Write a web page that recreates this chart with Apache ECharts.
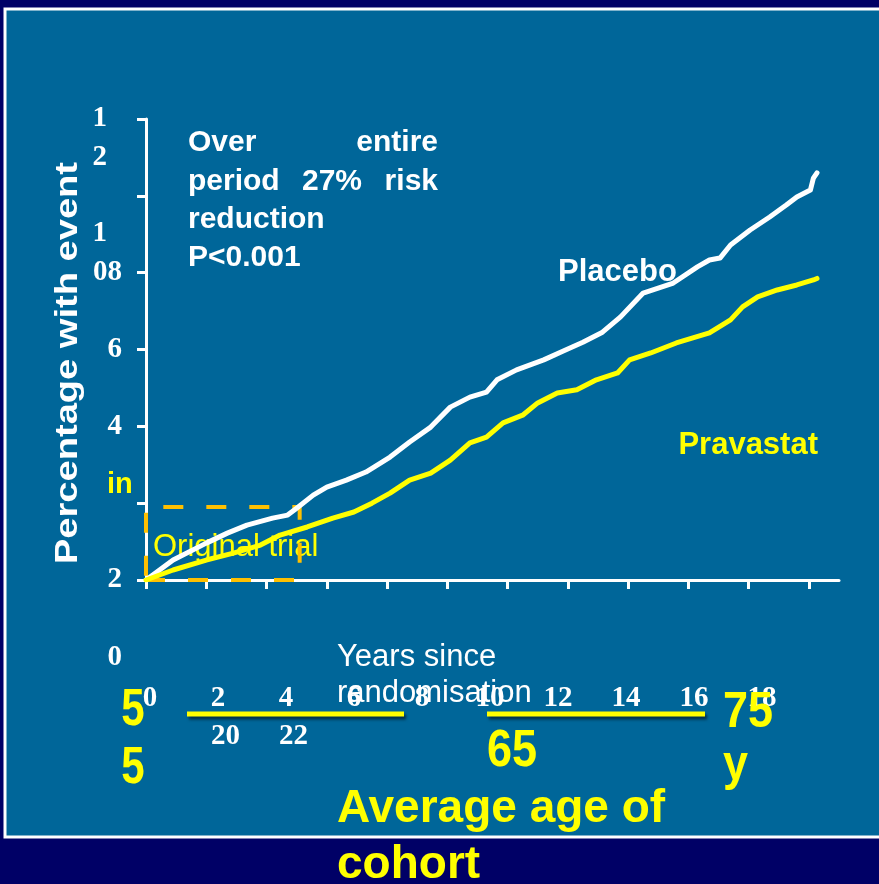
<!DOCTYPE html>
<html>
<head>
<meta charset="utf-8">
<script src="https://cdn.jsdelivr.net/npm/echarts@6/dist/echarts.min.js"></script>
<style>
  html, body { margin: 0; padding: 0; background: #000066; }
  #chart { width: 879px; height: 884px; }
</style>
</head>
<body>
<div id="chart"></div>
<script>
// curves: [years since randomisation, % with event]
const placebo = [
  [0, 0], [0.9, 0.52], [2.0, 0.96], [2.7, 1.22], [3.35, 1.43], [4.2, 1.61], [4.7, 1.69],
  [5.0, 1.87], [5.55, 2.21], [6.0, 2.42], [6.65, 2.6], [7.3, 2.81], [8.1, 3.2], [8.75, 3.59],
  [9.45, 3.98], [10.1, 4.5], [10.75, 4.76], [11.3, 4.89], [11.65, 5.21], [12.3, 5.47],
  [13.2, 5.73], [13.85, 5.96], [14.5, 6.19], [15.15, 6.45], [15.75, 6.85], [16.5, 7.47],
  [17.5, 7.73], [18.3, 8.15], [18.7, 8.33], [19.05, 8.38], [19.4, 8.72], [20.05, 9.11],
  [20.7, 9.45], [21.25, 9.76], [21.6, 9.97], [22.05, 10.15], [22.15, 10.46], [22.27, 10.6]
]
const pravastatin = [
  [0, 0], [0.9, 0.26], [2.0, 0.52], [2.9, 0.7], [3.8, 0.91], [4.45, 1.17], [5.35, 1.38],
  [6.2, 1.61], [6.9, 1.77], [7.5, 2.0], [8.1, 2.26], [8.75, 2.6], [9.45, 2.78], [10.1, 3.12],
  [10.75, 3.57], [11.3, 3.72], [11.85, 4.09], [12.5, 4.29], [13.0, 4.61], [13.65, 4.87],
  [14.3, 4.95], [14.95, 5.21], [15.65, 5.39], [16.05, 5.73], [16.75, 5.91], [17.6, 6.17],
  [18.7, 6.43], [19.4, 6.77], [19.8, 7.11], [20.3, 7.37], [20.95, 7.55], [21.6, 7.68],
  [22.15, 7.81], [22.27, 7.85]
]
// dashed "Original trial" box
const originalTrial = [[0, 0], [5.1, 1.9]]

// tick marks and the (misplaced) tick labels as they appear on the slide
const xTickValues = [0, 2, 4, 6, 8, 10, 12, 14, 16, 18, 20, 22]
const xLabelValues = [0, 2, 4, 6, 8, 10, 12, 14, 16, 18]
const xTickLabels = ['0', '2\n{s|20}', '4\n{s|22}', '6', '8', '10', '12', '14', '16', '18']
const yTickValues = [0, 2, 4, 6, 8, 10, 12]
const yTickLabels = ['\n\n2\n\n0', '', '4', '6', '{p|1}\n08\n', '', '\n{p|1}\n{p|2}']

const WHITE = '#ffffff'
const YELLOW = '#ffff00'
const SANS = 'Liberation Sans, Arial, sans-serif'
const SERIF = 'Liberation Serif, Times New Roman, serif'

const chart = echarts.init(document.getElementById('chart'))

const tickFont = { color: WHITE, fontFamily: SERIF, fontWeight: 'bold', fontSize: 29 }

function txt(x, y, text, opts) {
  return {
    type: 'text', x: x, y: y, z: 1,
    rotation: opts.rotation || 0,
    scaleX: opts.scaleX || 1,
    scaleY: opts.scaleY || 1,
    silent: true,
    style: {
      text: text,
      fill: opts.color || WHITE,
      font: (opts.weight || 'bold') + ' ' + opts.size + 'px ' + SANS,
      align: opts.align || 'left',
      verticalAlign: opts.valign || 'middle',
      lineHeight: opts.lineHeight
    }
  }
}

function underline(x1, x2, y) {
  return {
    type: 'line', z: 1, silent: true,
    shape: { x1: x1, y1: y, x2: x2, y2: y },
    style: {
      stroke: YELLOW, lineWidth: 5,
      shadowColor: 'rgba(0,0,0,0.55)', shadowBlur: 3, shadowOffsetX: 2, shadowOffsetY: 3
    }
  }
}

const option = {
  backgroundColor: '#000066',
  animation: false,
  grid: [
    { left: 146, top: 119, width: 693, height: 461, outerBoundsMode: 'none' },
    { left: 150, top: 600, width: 612, height: 74, outerBoundsMode: 'none' }
  ],
  xAxis: [
    {
      type: 'value', min: 0, max: 23, interval: 2,
      axisLine: { show: true, lineStyle: { color: WHITE, width: 3 } },
      axisTick: { show: true, customValues: xTickValues, length: 9, lineStyle: { color: WHITE, width: 3 } },
      axisLabel: { show: false },
      splitLine: { show: false }
    },
    {
      type: 'value', gridIndex: 1, min: 0, max: 18, interval: 2,
      axisLine: { show: false }, axisTick: { show: false }, splitLine: { show: false },
      axisLabel: Object.assign({
        margin: 6, lineHeight: 38,
        formatter: v => xTickLabels[xLabelValues.indexOf(v)] || '',
        rich: { s: Object.assign({ padding: [0, 0, 0, 15], lineHeight: 38 }, tickFont) }
      }, tickFont)
    }
  ],
  yAxis: [
    {
      type: 'value', min: 0, max: 12, interval: 2,
      axisLine: { show: true, lineStyle: { color: WHITE, width: 3 } },
      axisTick: { show: true, length: 9, lineStyle: { color: WHITE, width: 3 } },
      splitLine: { show: false },
      axisLabel: Object.assign({
        margin: 24, lineHeight: 39,
        formatter: v => yTickLabels[yTickValues.indexOf(v)] || '',
        rich: { p: Object.assign({ padding: [0, 15, 0, 0], lineHeight: 39 }, tickFont) }
      }, tickFont)
    },
    { type: 'value', gridIndex: 1, show: false, min: 0, max: 1 }
  ],
  graphic: [
    {
      type: 'rect', z: -10, silent: true,
      shape: { x: 5, y: 9, width: 880, height: 828 },
      style: { fill: '#006699', stroke: WHITE, lineWidth: 3 }
    },
    txt(68, 363, 'Percentage with event', { size: 32, align: 'center', rotation: Math.PI / 2, scaleX: 1.19 }),
    txt(188, 143, 'Over', { size: 30 }),
    txt(438, 143, 'entire', { size: 30, align: 'right' }),
    txt(188, 182, 'period', { size: 30 }),
    txt(302, 182, '27%', { size: 30 }),
    txt(438, 182, 'risk', { size: 30, align: 'right' }),
    txt(188, 220, 'reduction', { size: 30 }),
    txt(188, 258, 'P<0.001', { size: 30 }),
    txt(558, 272, 'Placebo', { size: 31 }),
    txt(818, 445, 'Pravastat', { size: 31, align: 'right', color: YELLOW }),
    txt(107, 485, 'in', { size: 29, color: YELLOW }),
    txt(153, 547, 'Original trial', { size: 31, weight: 'normal', color: YELLOW }),
    txt(337, 639, 'Years since\nrandomisation', { size: 31, weight: 'normal', valign: 'top', lineHeight: 36 }),
    txt(133, 740, '5\n5', { size: 42, align: 'center', color: YELLOW, scaleY: 1.22, lineHeight: 47 }),
    txt(512, 752, '65', { size: 45, align: 'center', color: YELLOW, scaleY: 1.15 }),
    txt(723, 740, '75\ny', { size: 45, color: YELLOW, scaleY: 1.1, lineHeight: 48 }),
    txt(337, 781, 'Average age of\ncohort', { size: 46, color: YELLOW, valign: 'top', lineHeight: 56 }),
    underline(187, 404, 714),
    underline(487, 705, 714)
  ],
  series: [
    {
      name: 'Placebo', type: 'line', data: placebo, symbol: 'none', z: 3,
      lineStyle: { color: WHITE, width: 5, cap: 'round', join: 'round' }
    },
    {
      name: 'Pravastatin', type: 'line', data: pravastatin, symbol: 'none', z: 4,
      lineStyle: { color: YELLOW, width: 5, cap: 'round', join: 'round' },
      markArea: {
        silent: true,
        itemStyle: {
          color: 'rgba(0,0,0,0)', borderColor: '#ffc000', borderWidth: 4,
          borderType: [20, 23], borderDashOffset: 1
        },
        data: [[{ coord: originalTrial[0] }, { coord: originalTrial[1] }]]
      }
    }
  ]
}

chart.setOption(option)
</script>
</body>
</html>
